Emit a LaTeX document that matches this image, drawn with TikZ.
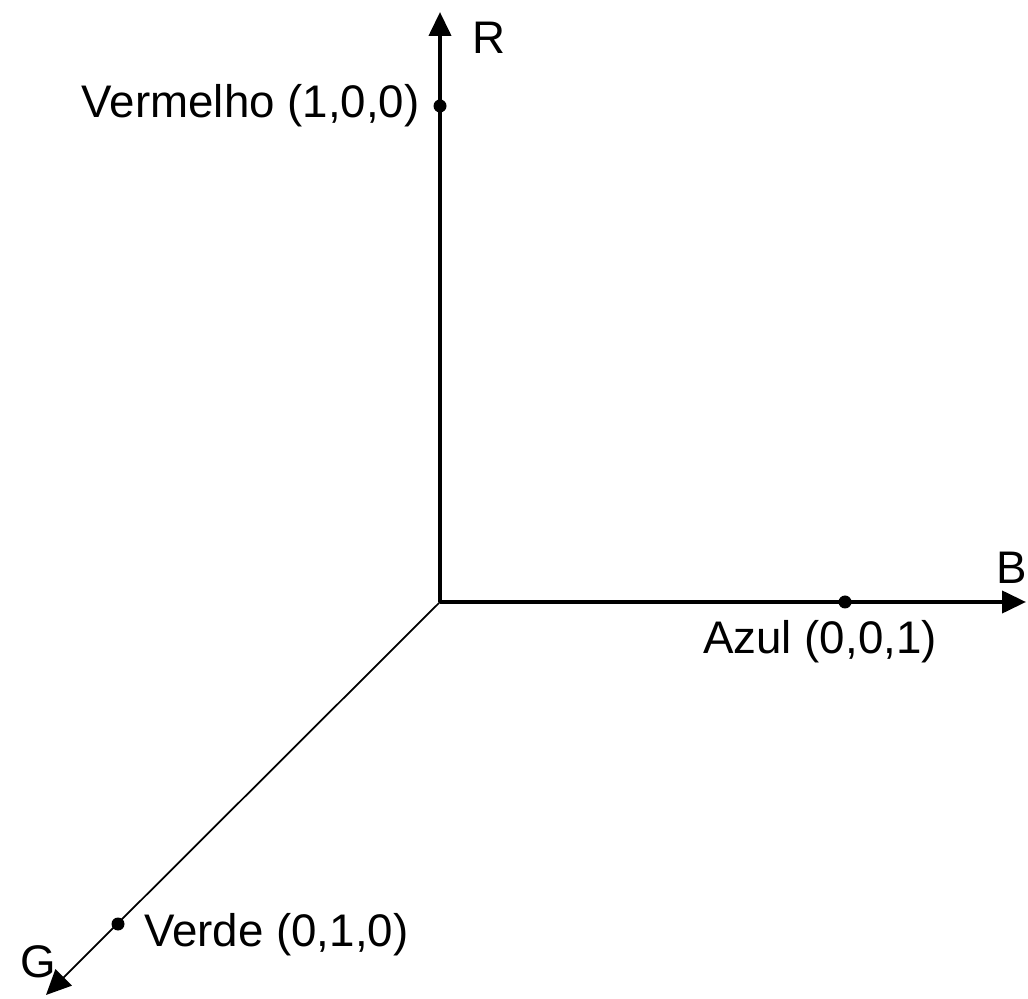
\documentclass[tikz,border=0pt]{standalone}
\usepackage{fontspec}
\setmainfont{Liberation Sans}
\usetikzlibrary{arrows.meta}

\begin{document}
\begin{tikzpicture}[x=0.02cm, y=-0.02cm,
  axis/.style={line width=2.3pt, -{Triangle[length=0.48cm, width=0.44cm]}},
  gaxis/.style={line width=1pt, -{Triangle[length=0.5cm, width=0.46cm]}},
  lbl/.style={font=\fontsize{26}{29}\selectfont, inner sep=0pt},
]
  \useasboundingbox (0,0) rectangle (1028,999);
  \coordinate (O) at (440,602);
  \coordinate (R) at (440,12);
  \coordinate (B) at (1026,602);
  \coordinate (G) at (46,995);
  \coordinate (Rd) at (440,106);
  \coordinate (Bd) at (845,602);
  \coordinate (Gd) at (118,924);
  \draw[axis] (O) -- (R);
  \draw[axis] (O) -- (B);
  \draw[gaxis] (O) -- (G);
  % pontos das cores primarias
  \foreach \pt in {Rd,Bd,Gd} \fill (\pt) circle (6.5);
  \node[lbl, anchor=west]  (rl) at (472,38)  {R};
  \node[lbl, anchor=east]  (bl) at (1027,568) {B};
  \node[lbl, anchor=west]  (gl) at (20,962)  {G};
  \node[lbl, anchor=east]  (vm) at (420,106) {Vermelho (1,0,0)};
  \node[lbl, anchor=north] (az) at (820,620) {Azul (0,0,1)};
  \node[lbl, anchor=west]  (vd) at (144,935) {Verde (0,1,0)};
\end{tikzpicture}
\end{document}
